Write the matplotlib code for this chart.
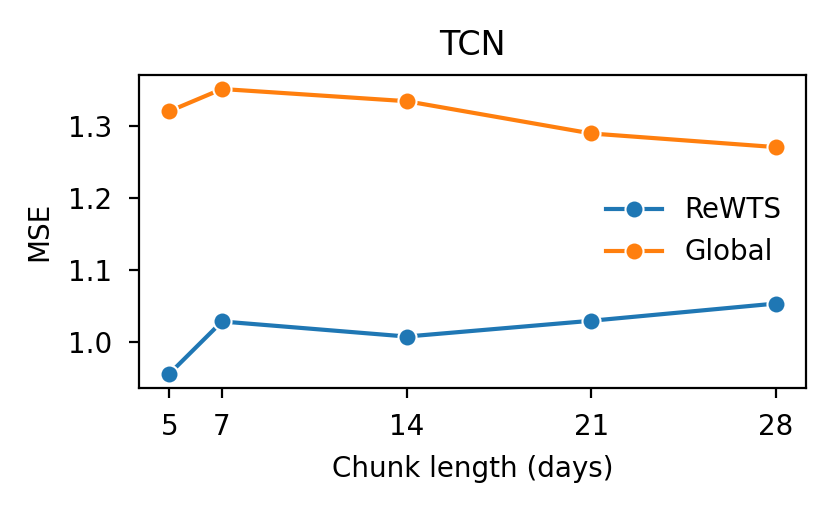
import matplotlib
matplotlib.use("Agg")
import matplotlib.pyplot as plt

chunk_lengths = [5, 7, 14, 21, 28]
rewts_mse = [0.955, 1.028, 1.007, 1.029, 1.053]
global_mse = [1.321, 1.352, 1.335, 1.290, 1.271]

fig = plt.figure(figsize=(4.16, 2.56), dpi=200)
ax = fig.add_axes([0.167, 0.242, 0.802, 0.612])
ax.plot(chunk_lengths, rewts_mse, marker='o', color='#1f77b4', label='ReWTS',
        markeredgecolor='white', markeredgewidth=0.75, markersize=6.5, linewidth=1.5)
ax.plot(chunk_lengths, global_mse, marker='o', color='#ff7f0e', label='Global',
        markeredgecolor='white', markeredgewidth=0.75, markersize=6.5, linewidth=1.5)
ax.set_xticks(chunk_lengths)
ax.set_yticks([1.0, 1.1, 1.2, 1.3])
ax.tick_params(axis='x', labelsize=10, pad=5.5)
ax.tick_params(axis='y', labelsize=10, pad=6.0)
ax.set_xlabel('Chunk length (days)', fontsize=10, labelpad=5)
ax.set_ylabel('MSE', fontsize=10, labelpad=5.5)
ax.set_title('TCN', fontsize=12, pad=7)
ax.legend(loc='center right', frameon=False, fontsize=10)
fig.savefig('out.png', dpi=200)
